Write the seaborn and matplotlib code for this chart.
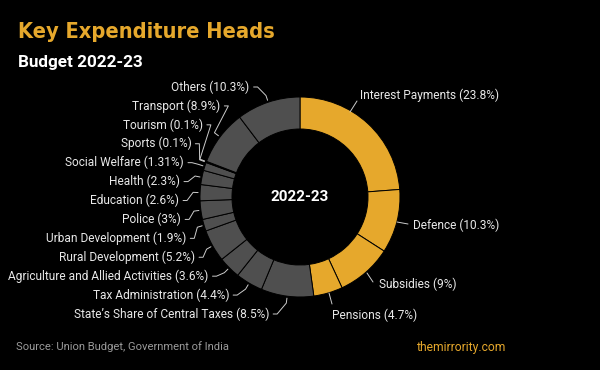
import numpy as np
import matplotlib
matplotlib.use("Agg")
import matplotlib.pyplot as plt
from matplotlib import font_manager as fm
import seaborn as sns

categories = ["Interest Payments", "Defence", "Subsidies", "Pensions",
              "State’s Share of Central Taxes", "Tax Administration",
              "Agriculture and Allied Activities", "Rural Development",
              "Urban Development", "Police", "Education", "Health",
              "Social Welfare", "Sports", "Tourism", "Transport", "Others"]
values = [23.8, 10.3, 9, 4.7, 8.5, 4.4, 3.6, 5.2, 1.9, 3, 2.6, 2.3, 1.31, 0.1, 0.1, 8.9, 10.3]
value_labels = ["23.8%", "10.3%", "9%", "4.7%", "8.5%", "4.4%", "3.6%", "5.2%",
                "1.9%", "3%", "2.6%", "2.3%", "1.31%", "0.1%", "0.1%", "8.9%", "10.3%"]
highlight = [True, True, True, True] + [False] * 13

sns.set_theme(style="dark")
plt.rcParams['font.family'] = ['Roboto', 'DejaVu Sans']

ORANGE = "#E6A82C"
GRAY = "#4F4F4F"
H = 370
fig = plt.figure(figsize=(6, 3.7), dpi=100, facecolor="black")
ax = fig.add_axes([0, 0, 1, 1])
ax.set_facecolor("black")

cx, cy = 300, H - 197
R, W = 100, 32
colors = [ORANGE if h else GRAY for h in highlight]
wedges, _ = ax.pie(values, colors=colors, startangle=90, counterclock=False,
                   radius=R, center=(cx, cy),
                   wedgeprops=dict(width=W, edgecolor="black", linewidth=0.7))
ax.set_xlim(0, 600)
ax.set_ylim(0, H)
ax.set_aspect("equal")
ax.axis("off")

ax.text(cx, cy, "2022-23", color="white", fontsize=11, fontweight="bold",
        ha="center", va="center")

lab_color = "#E8E8E8"
line_color = "#cccccc"
fs = 8.6
right_idx = [i for i, h in enumerate(highlight) if h]
left_idx = [i for i, h in enumerate(highlight) if not h]

def mid_angle(w):
    return np.deg2rad((w.theta1 + w.theta2) / 2)

# right side label layout (pixel positions: line start, line end, text anchor)
right_layout = [((350, 112), (357, 101), (360, 95)),
                ((397, 222), (408, 224), (413, 225)),
                ((367, 273), (373, 282), (379, 284)),
                ((329, 293), (332, 304), (332, 315))]
for i, (p0, p1, pt) in zip(right_idx, right_layout):
    ax.plot([p0[0], p1[0]], [H - p0[1], H - p1[1]], color=line_color, lw=0.7)
    ax.text(pt[0], H - pt[1], f"{categories[i]} ({value_labels[i]})",
            color=lab_color, fontsize=fs, ha="left", va="center")

# left side labels stacked evenly
n = len(left_idx)
top_y, bot_y = H - 87, H - 314
ys = np.linspace(bot_y, top_y, n)
for k, i in enumerate(left_idx):
    a = mid_angle(wedges[i])
    ty = ys[k]
    dy = ty - cy
    rr = 121
    tx = cx - np.sqrt(max(rr**2 - dy**2, 0))
    p0 = (cx + (R + 2) * np.cos(a), cy + (R + 2) * np.sin(a))
    p1 = (cx + (R + 7) * np.cos(a), cy + (R + 7) * np.sin(a))
    ax.plot([p0[0], p1[0], tx + 8, tx + 4], [p0[1], p1[1], ty, ty],
            color=line_color, lw=0.7)
    ax.text(tx, ty, f"{categories[i]} ({value_labels[i]})", color=lab_color,
            fontsize=fs, ha="right", va="center")

# title font: prefer a narrow bold face
cands = []
for f in fm.fontManager.ttflist:
    nm = f.name.lower()
    narrow = ('narrow' in nm or 'condensed' in nm or
              str(f.stretch) in ('condensed', 'semi-condensed', 'extra-condensed', 'ultra-condensed'))
    bold = f.weight in ('bold', 700, 'heavy', 'black', 800, 900) or 'bold' in f.fname.lower()
    if narrow and bold and 'oblique' not in f.fname.lower() and 'italic' not in f.fname.lower():
        cands.append(f)
if cands:
    pref = sorted(cands, key=lambda f: (0 if 'liberation' in f.name.lower() else 1))
    title_fp = fm.FontProperties(fname=pref[0].fname)
else:
    title_fp = fm.FontProperties(family=['Roboto'], weight='bold')

title_fp.set_size(22)
t = fig.text(18 / 600, 1 - 32 / H, "Key Expenditure Heads", color=ORANGE,
             fontproperties=title_fp, ha="left", va="center")
fig.canvas.draw()
wpx = t.get_window_extent().width
target = 256
title_fp.set_size(22 * target / wpx)
t.set_fontproperties(title_fp)

fig.text(18 / 600, 1 - 62 / H, "Budget 2022-23", color="white", fontsize=12.3,
         fontweight="bold", ha="left", va="center")
fig.text(16 / 600, 1 - 347 / H, "Source: Union Budget, Government of India",
         color="#9a9a9a", fontsize=8.1, ha="left", va="center")
fig.text(506 / 600, 1 - 347 / H, "themirrority.com", color=ORANGE,
         fontsize=8.7, ha="right", va="center")

fig.savefig("out.png", dpi=100, facecolor="black")
